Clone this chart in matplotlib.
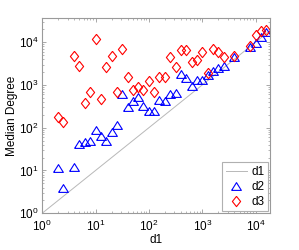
"""Median degree vs d1 scatter (log-log)."""

import matplotlib
matplotlib.use("Agg")
import matplotlib.pyplot as plt

plt.rcParams.update({
    "font.family": ["Liberation Sans", "DejaVu Sans"],
    "font.size": 8.5,
    "mathtext.fontset": "custom",
    "mathtext.rm": "Liberation Sans",
    "mathtext.it": "Liberation Sans:italic",
    "axes.edgecolor": "#9a9a9a",
    "xtick.color": "#9a9a9a",
    "ytick.color": "#9a9a9a",
    "xtick.labelcolor": "black",
    "ytick.labelcolor": "black",
})

# ── Данные ──────────────────────────────────────────────────────────────
d1 = [2, 2.5, 4, 5, 6.3, 8, 10, 12.6, 15.8, 20, 25, 32, 40, 50, 63, 79,
      100, 126, 158, 200, 251, 316, 398, 501, 631, 794, 1000, 1259, 1585,
      1995, 2512, 3981, 7943, 10000, 12589, 15849]

d2 = [11.2, 4.0, 11.8, 41.8, 45.3, 49.9, 88.9, 62.6, 47.8, 79.8, 113, 601,
      312, 412, 525, 315, 247, 241, 447, 424, 608, 652, 1813, 1462, 925,
      1277, 1312, 1718, 2075, 2438, 2790, 4412, 7558, 9630, 12950, 17220]

d3 = [179, 133, 4786, 2716, 370, 688, 11940, 480, 2687, 4861, 688, 6900,
      1502, 766, 877, 754, 1224, 670, 1502, 1502, 4605, 2575, 6430, 6430,
      3367, 3918, 5865, 1914, 6900, 6030, 4530, 4732, 8110, 15060, 18370,
      19400]

# диагональ y = x
diag = [1, 20000]

# ── Маркеры в стиле MATLAB ──────────────────────────────────────────────
TRI = [(-1, -0.8), (1, -0.8), (0, 0.8), (-1, -0.8)]
DIAM = [(0, 1), (0.8, 0), (0, -1), (-0.8, 0), (0, 1)]

fig = plt.figure(figsize=(2.99, 2.5), dpi=100)
ax = fig.add_axes([0.141, 0.147, 0.762, 0.780])

ax.plot(diag, diag, color="#b8b8b8", linewidth=0.7, label="d1")
ax.plot(d1, d2, linestyle="none", marker=TRI, markersize=7.0,
        markerfacecolor="none", markeredgecolor="#0000ff",
        markeredgewidth=0.8, label="d2")
ax.plot(d1, d3, linestyle="none", marker=DIAM, markersize=7.4,
        markerfacecolor="none", markeredgecolor="#ff0000",
        markeredgewidth=0.8, label="d3")

ax.set_xscale("log")
ax.set_yscale("log")
ax.set_xlim(1, 10 ** 4.27)
ax.set_ylim(1, 10 ** 4.56)

ax.tick_params(which="both", direction="in", top=True, right=True)
ax.tick_params(which="major", length=3, width=0.6, labelsize=8.5)
ax.tick_params(axis="x", which="major", pad=4)
ax.tick_params(axis="y", which="major", pad=2.5)
ax.tick_params(which="minor", length=1.6, width=0.5)
for s in ax.spines.values():
    s.set_linewidth(0.8)

ax.set_xlabel("d1", fontsize=8.5, labelpad=0)
ax.set_ylabel("Median Degree", fontsize=8.5, labelpad=1)

leg = ax.legend(loc="lower right", fontsize=8.5, frameon=True, fancybox=False,
                framealpha=1, edgecolor="#b0b0b0", borderaxespad=0.15,
                handlelength=1.8, handletextpad=0.4, labelspacing=0.25,
                borderpad=0.3)
leg.get_frame().set_linewidth(0.8)

fig.savefig("out.png", dpi=100)
